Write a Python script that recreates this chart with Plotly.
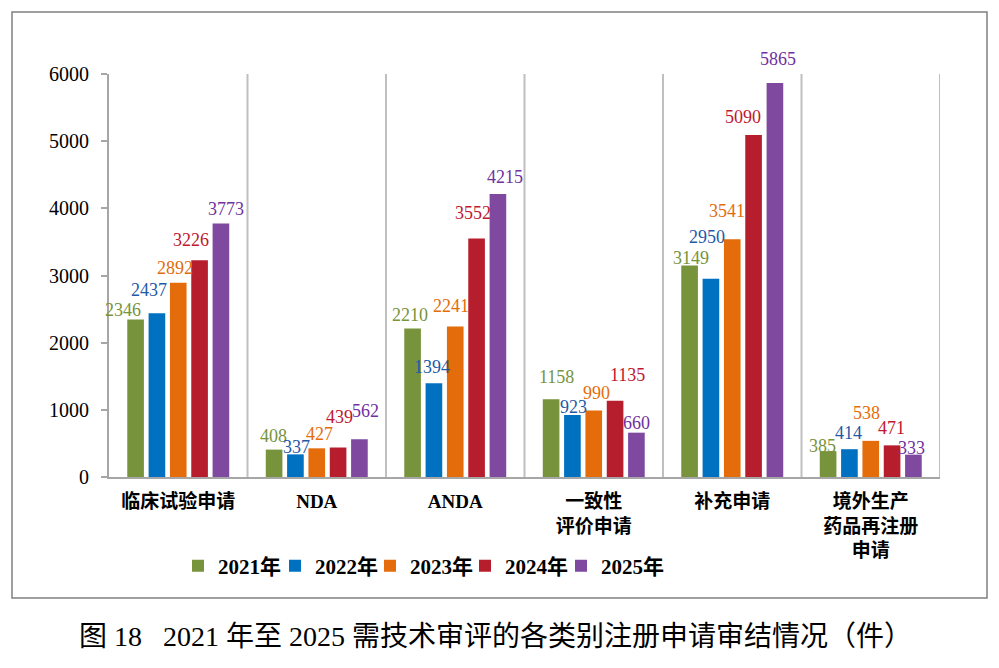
import plotly.graph_objects as go

categories = ["临床试验申请", "NDA", "ANDA", "一致性<br>评价申请", "补充申请", "境外生产<br>药品再注册<br>申请"]
years = ["2021年", "2022年", "2023年", "2024年", "2025年"]
values = {
    "2021年": [2346, 408, 2210, 1158, 3149, 385],
    "2022年": [2437, 337, 1394, 923, 2950, 414],
    "2023年": [2892, 427, 2241, 990, 3541, 538],
    "2024年": [3226, 439, 3552, 1135, 5090, 471],
    "2025年": [3773, 562, 4215, 660, 5865, 333],
}
bar_colors = ["#77933C", "#0070C0", "#E46C0A", "#B71E2D", "#7F49A0"]
text_colors = ["#77933C", "#1F5AA6", "#E46C0A", "#C0182E", "#7030A0"]
y_ticks = [0, 1000, 2000, 3000, 4000, 5000, 6000]
caption = "图 18   2021 年至 2025 需技术审评的各类别注册申请审结情况（件）"

# label placement offsets (pixels) relative to category centre / bar top
label_dx = {
    "2021年": [-55, -43, -45, -37, -41, -48],
    "2022年": [-29, -20, -23, -20, -25, -22],
    "2023年": [-3, 3, -4, 3, -5, -4],
    "2024年": [13, 23, 18, 34, 11, 21],
    "2025年": [48, 49, 50, 43, 46, 41],
}
label_dy = {
    "2021年": [9, 14, 14, 22, 7, 5],
    "2022年": [23, 7, 16, 8, 42, 16],
    "2023年": [15, 14, 20, 18, 28, 28],
    "2024年": [20, 31, 25, 26, 18, 17],
    "2025年": [15, 28, 17, 10, 24, 7],
}
# legend square x-positions (pixels)
legend_px = [200, 297, 392, 487, 583]

SERIF = "Liberation Serif, Times New Roman, Noto Sans CJK SC"

L, R, T, B = 109, 59, 74, 191
W, H = 999, 668
pw, ph = W - L - R, H - T - B

def px_x(x):
    return (x - L) / pw

def px_y(y):
    return (H - B - y) / ph

fig = go.Figure()
legend_keys = ["legend", "legend2", "legend3", "legend4", "legend5"]
for i, yr in enumerate(years):
    fig.add_trace(go.Bar(
        name=yr, x=categories, y=values[yr],
        marker=dict(color=bar_colors[i], line=dict(width=0)),
        cliponaxis=False, legend=legend_keys[i],
    ))

annotations = []
for i, yr in enumerate(years):
    for j, cat in enumerate(categories):
        annotations.append(dict(
            x=cat, y=values[yr][j], xref="x", yref="y",
            text=str(values[yr][j]), showarrow=False,
            xanchor="center", yanchor="middle",
            xshift=label_dx[yr][j], yshift=label_dy[yr][j],
            font=dict(family=SERIF, size=18, color=text_colors[i]),
        ))
annotations.append(dict(text=caption, xref="paper", yref="paper", x=px_x(495), y=px_y(636),
                        xanchor="center", yanchor="middle", showarrow=False,
                        font=dict(family=SERIF, size=28, color="black")))

shapes = []
shapes.append(dict(type="rect", xref="paper", yref="paper",
                   x0=px_x(12), x1=px_x(987), y0=px_y(598), y1=px_y(12),
                   line=dict(color="#808080", width=1.5)))
for k in range(len(categories)):
    xv = k + 0.5
    shapes.append(dict(type="line", xref="x", yref="paper", x0=xv, x1=xv, y0=0, y1=1,
                       line=dict(color="#BFBFBF", width=2), layer="below"))

legend_font = dict(family=SERIF, size=21, color="black", weight="bold")
layout_legends = {}
for i, key in enumerate(legend_keys):
    layout_legends[key] = dict(
        orientation="h", x=px_x(legend_px[i] - 22), y=px_y(566),
        xanchor="left", yanchor="middle", font=legend_font,
        itemwidth=30, bgcolor="rgba(0,0,0,0)",
    )

fig.update_layout(
    width=W, height=H,
    margin=dict(l=L, r=R, t=T, b=B),
    paper_bgcolor="white", plot_bgcolor="white",
    barmode="group", bargap=0.23, bargroupgap=0.22,
    shapes=shapes, annotations=annotations,
    showlegend=True,
    **layout_legends,
)
fig.update_xaxes(
    range=[-0.5, len(categories) - 0.5],
    showline=True, linecolor="#A6A6A6", linewidth=2,
    ticks="", tickfont=dict(family=SERIF, size=19, color="black", weight="bold"),
    ticklabelstandoff=6,
    showgrid=False, fixedrange=True,
)
fig.update_yaxes(
    range=[0, 6000], tickvals=y_ticks,
    showline=True, linecolor="#A6A6A6", linewidth=2,
    ticks="outside", ticklen=6, tickcolor="#A6A6A6", tickwidth=2,
    tickfont=dict(family=SERIF, size=20, color="black"),
    ticklabelstandoff=8,
    showgrid=False, zeroline=False, fixedrange=True,
)

fig.write_html("out.html")
